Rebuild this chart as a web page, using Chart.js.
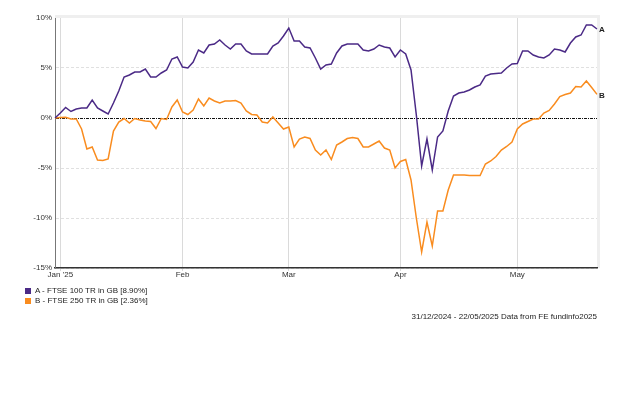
<!DOCTYPE html>
<html>
<head>
<meta charset="utf-8">
<script src="https://cdn.jsdelivr.net/npm/chart.js@4.4.0/dist/chart.umd.min.js"></script>
<style>
  body { margin: 0; background: #fff; font-family: "Liberation Sans", Arial, sans-serif; }
  .wrap { position: relative; width: 621px; height: 397px; }
  #chart { position: absolute; left: 0; top: 0; }
  .legend { position: absolute; left: 25px; top: 286px; font-size: 8px; color: #222; line-height: 10px; }
  .legend div { white-space: nowrap; }
  .legend span { display: inline-block; width: 6px; height: 6px; margin-right: 4px; vertical-align: -0.5px; }
  .note { position: absolute; right: 24px; top: 312px; font-size: 8px; color: #222; white-space: nowrap; }
</style>
</head>
<body>
<div class="wrap">
  <canvas id="chart" width="621" height="397"></canvas>
  <div class="legend">
    <div><span style="background:#4b2a86"></span>A - FTSE 100 TR in GB [8.90%]</div>
    <div><span style="background:#f98c1f"></span>B - FTSE 250 TR in GB [2.36%]</div>
  </div>
  <div class="note">31/12/2024 - 22/05/2025 Data from FE fundinfo2025</div>
</div>
<script>
// weekday series, 31/12/2024 .. 22/05/2025 (% growth)
const startDate = '2024-12-31';
const endDate = '2025-05-22';
const monthLabels = ["Jan '25", 'Feb', 'Mar', 'Apr', 'May'];
const seriesTags = ['A', 'B'];

const ftse100 = [
  0, 0.5, 1.05, 0.65, 0.9, 1.0, 1.0, 1.8, 1.0, 0.7,
  0.4, 1.5, 2.7, 4.1, 4.3, 4.6, 4.6, 4.9, 4.1, 4.1,
  4.5, 4.8, 5.9, 6.1, 5.1, 5.0, 5.6, 6.8, 6.5, 7.3,
  7.4, 7.8, 7.3, 6.9, 7.4, 7.4, 6.7, 6.4, 6.4, 6.4,
  6.4, 7.2, 7.5, 8.2, 9.0, 7.7, 7.7, 7.1, 7.0, 6.0,
  4.9, 5.3, 5.4, 6.5, 7.2, 7.4, 7.4, 7.4, 6.8, 6.7,
  6.9, 7.3, 7.1, 7.0, 6.1, 6.8, 6.4, 4.8, 0.3, -4.8,
  -2.1, -5.2, -1.9, -1.3, 0.7, 2.2, 2.5, 2.6, 2.8, 3.1,
  3.3, 4.2, 4.4, 4.45, 4.5, 5.0, 5.4, 5.45, 6.7, 6.7,
  6.3, 6.1, 6.0, 6.3, 6.9, 6.8, 6.6, 7.5, 8.1, 8.3,
  9.3, 9.3, 8.9
];

const ftse250 = [
  0, 0.05, 0.07, -0.1, -0.1, -1.1, -3.1, -2.9, -4.2, -4.25,
  -4.1, -1.3, -0.4, -0.05, -0.5, -0.05, -0.2, -0.3, -0.35, -1.05,
  -0.05, -0.15, 1.1, 1.8, 0.6, 0.35, 0.8, 1.9, 1.2, 2.0,
  1.7, 1.5, 1.7, 1.7, 1.75, 1.5, 0.7, 0.35, 0.3, -0.4,
  -0.5, 0.1, -0.5, -1.1, -0.9, -2.9, -2.1, -1.9, -2.05, -3.2,
  -3.7, -3.2, -4.15, -2.7, -2.4, -2.05, -1.95, -2.05, -2.9, -2.9,
  -2.6, -2.3, -3.0, -3.2, -5.0, -4.35, -4.15, -6.2, -10.0, -13.4,
  -10.4, -12.8, -9.3, -9.3, -7.2, -5.7, -5.7, -5.7, -5.75, -5.75,
  -5.75, -4.6, -4.3, -3.85, -3.2, -2.85, -2.4, -1.1, -0.6, -0.35,
  -0.1, -0.1, 0.5, 0.75, 1.4, 2.15, 2.35, 2.5, 3.15, 3.1,
  3.7, 3.05, 2.36
];

// weekday labels
const days = [];
const stop = new Date(endDate + 'T00:00:00Z');
for (let d = new Date(startDate + 'T00:00:00Z'); d <= stop; d.setUTCDate(d.getUTCDate() + 1)) {
  const wd = d.getUTCDay();
  if (wd !== 0 && wd !== 6) days.push(d.toISOString().slice(0, 10));
}

// first weekday of each month gets a tick
const tickText = {};
let m = 0;
days.forEach((d, i) => {
  if (i > 0 && d.slice(5, 7) !== days[i - 1].slice(5, 7)) tickText[i] = monthLabels[m++];
});

const frame = {
  id: 'frame',
  beforeDraw(chart) {
    const { ctx, chartArea: a } = chart;
    ctx.save();
    ctx.fillStyle = '#efefef';
    ctx.fillRect(a.left, a.top - 3, a.right - a.left + 3, 3);
    ctx.fillRect(a.right, a.top - 3, 3, a.bottom - a.top + 3);
    ctx.restore();
  }
};

const endLabels = {
  id: 'endLabels',
  afterDatasetsDraw(chart) {
    const c = chart.ctx;
    c.save();
    c.font = 'bold 8px "Liberation Sans", Arial, sans-serif';
    c.fillStyle = '#222';
    c.textBaseline = 'middle';
    chart.data.datasets.forEach((ds, i) => {
      const pts = chart.getDatasetMeta(i).data;
      const p = pts[pts.length - 1];
      c.fillText(seriesTags[i], p.x + 2, p.y + 1);
    });
    c.restore();
  }
};

new Chart(document.getElementById('chart'), {
  type: 'line',
  data: {
    labels: days,
    datasets: [
      { label: 'A - FTSE 100 TR in GB', data: ftse100, borderColor: '#4b2a86', borderWidth: 1.5, pointRadius: 0, tension: 0 },
      { label: 'B - FTSE 250 TR in GB', data: ftse250, borderColor: '#f98c1f', borderWidth: 1.5, pointRadius: 0, tension: 0 }
    ]
  },
  options: {
    responsive: false,
    animation: false,
    layout: { padding: { left: 0, top: 18, right: 24, bottom: 0 } },
    plugins: { legend: { display: false }, tooltip: { enabled: false } },
    scales: {
      x: {
        type: 'category',
        offset: false,
        afterBuildTicks: s => { s.ticks = s.ticks.filter(t => tickText[t.value] !== undefined); },
        afterFit: s => { s.height = 129; },
        ticks: {
          autoSkip: false, maxRotation: 0, padding: -1,
          font: { size: 8, family: '"Liberation Sans", Arial, sans-serif' }, color: '#333',
          callback: v => tickText[v]
        },
        grid: { color: '#dadada', lineWidth: 1, tickLength: 3 },
        border: { color: '#333', width: 1.5 }
      },
      y: {
        min: -15, max: 10,
        afterFit: s => { s.width = 55; },
        ticks: {
          stepSize: 5, padding: 3,
          font: { size: 8, family: '"Liberation Sans", Arial, sans-serif' }, color: '#333',
          callback: v => v + '%'
        },
        grid: {
          drawTicks: false, lineWidth: 1,
          color: ctx => {
            if (!ctx.tick) return '#e0e0e0';
            if (ctx.tick.value === 0) return '#111';
            if (ctx.tick.value === 10) return 'rgba(0,0,0,0)';
            return '#e0e0e0';
          }
        },
        border: {
          color: '#777', width: 1,
          dash: ctx => (ctx.tick && ctx.tick.value === 0 ? [3, 1, 1, 1] : [3, 2])
        }
      }
    }
  },
  plugins: [frame, endLabels]
});
</script>
</body>
</html>
